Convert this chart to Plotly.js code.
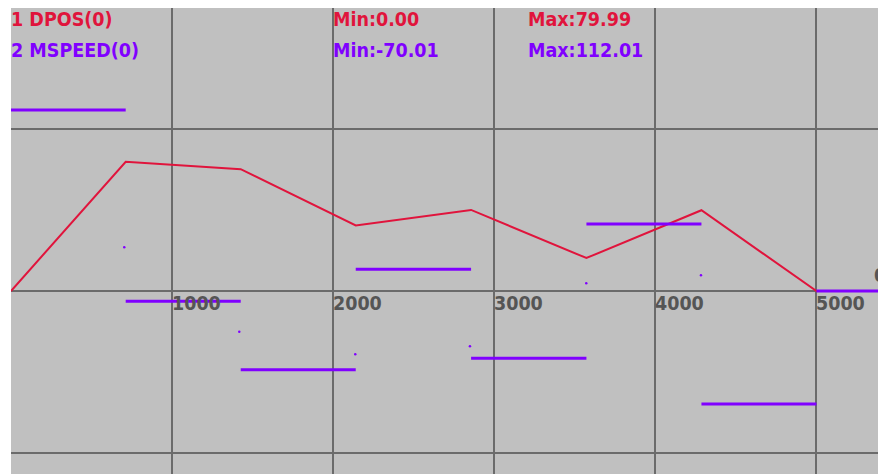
<!DOCTYPE html>
<html>
<head>
<meta charset="utf-8">
<script src="https://cdn.plot.ly/plotly-3.0.1.min.js"></script>
<style>html,body{margin:0;padding:0;background:#fff;}#chart{width:878px;height:474px;}</style>
</head>
<body>
<div id="chart"></div>
<script>
// Time breakpoints (ms)
const posT = [0, 712, 1426, 2140, 2856, 3572, 4286, 5000, 5400];
// DPOS(0) values
const posV = [0, 79.99, 75.4, 40.6, 50.2, 20.4, 50.0, 0, 0];
// MSPEED(0) step segments: start, end, value
const spdStart = [0, 712, 1426, 2140, 2856, 3572, 4286, 5000];
const spdEnd   = [712, 1426, 2140, 2856, 3572, 4286, 5000, 5400];
const spdV     = [112.01, -6.4, -48.7, 13.4, -41.7, 41.5, -70.01, 0];
// small isolated MSPEED samples
const dotT = [703, 1417, 2137, 2849, 3571, 4283];
const dotV = [27.1, -25.2, -39.2, -34.2, 4.8, 9.7];
// axis ticks
const xTicks = [1000, 2000, 3000, 4000, 5000];
const xTickText = ["1000", "2000", "3000", "4000", "5000"];
const yTicks = [-100, 0, 100];

const RED = "#e0143c", PURPLE = "#8000ff";
const FONT = "DejaVu Sans Condensed, DejaVu Sans, sans-serif";

const sx = [], sy = [];
for (let i = 0; i < spdV.length; i++) {
  sx.push(spdStart[i], spdEnd[i], null);
  sy.push(spdV[i], spdV[i], null);
}

const traces = [
  {x: posT, y: posV, mode: "lines", line: {color: RED, width: 2}, hoverinfo: "skip"},
  {x: sx, y: sy, mode: "lines", connectgaps: false, line: {color: PURPLE, width: 3}, hoverinfo: "skip"},
  {x: dotT, y: dotV, mode: "markers", marker: {color: PURPLE, size: 2.5}, hoverinfo: "skip"}
];

const ann = [];
xTicks.forEach((t, i) => ann.push({
  x: t, y: 0, xref: "x", yref: "y", text: xTickText[i], showarrow: false,
  xanchor: "left", yanchor: "middle", yshift: -13, xshift: -2,
  font: {family: FONT, size: 19.5, color: "#555555", weight: "bold"}
}));
function lab(txt, x, xref, py, color) {
  ann.push({x: x, xref: xref, y: (474 - py) / 466, yref: "paper", text: txt, showarrow: false,
    xanchor: "left", yanchor: "middle", xshift: -2,
    font: {family: FONT, size: 19.5, color: color, weight: "bold"}});
}
lab("1 DPOS(0)", 0, "paper", 19, RED);
lab("Min:0.00", 2000, "x", 19, RED);
lab("Max:79.99", 3207, "x", 19, RED);
lab("2 MSPEED(0)", 0, "paper", 50, PURPLE);
lab("Min:-70.01", 2000, "x", 50, PURPLE);
lab("Max:112.01", 3207, "x", 50, PURPLE);
ann.push({x: 0.9954, xref: "paper", y: 9.3, yref: "y", text: "0", showarrow: false,
  xanchor: "left", yanchor: "middle", xshift: -2,
  font: {family: FONT, size: 19.5, color: "#555555", weight: "bold"}});

const layout = {
  width: 878, height: 474,
  margin: {l: 11, r: 0, t: 8, b: 0, pad: 0},
  paper_bgcolor: "#ffffff", plot_bgcolor: "#c0c0c0",
  showlegend: false,
  xaxis: {range: [0, 5382], tickmode: "array", tickvals: xTicks, showticklabels: false,
    showgrid: true, gridcolor: "#6b6b6b", gridwidth: 2, zeroline: false, showline: false, ticks: "", fixedrange: true},
  yaxis: {range: [-113.3, 175.2], tickmode: "array", tickvals: yTicks, showticklabels: false,
    showgrid: true, gridcolor: "#6b6b6b", gridwidth: 2, zeroline: false, showline: false, ticks: "", fixedrange: true},
  annotations: ann
};
Plotly.newPlot("chart", traces, layout, {staticPlot: true, displayModeBar: false});
</script>
</body>
</html>
